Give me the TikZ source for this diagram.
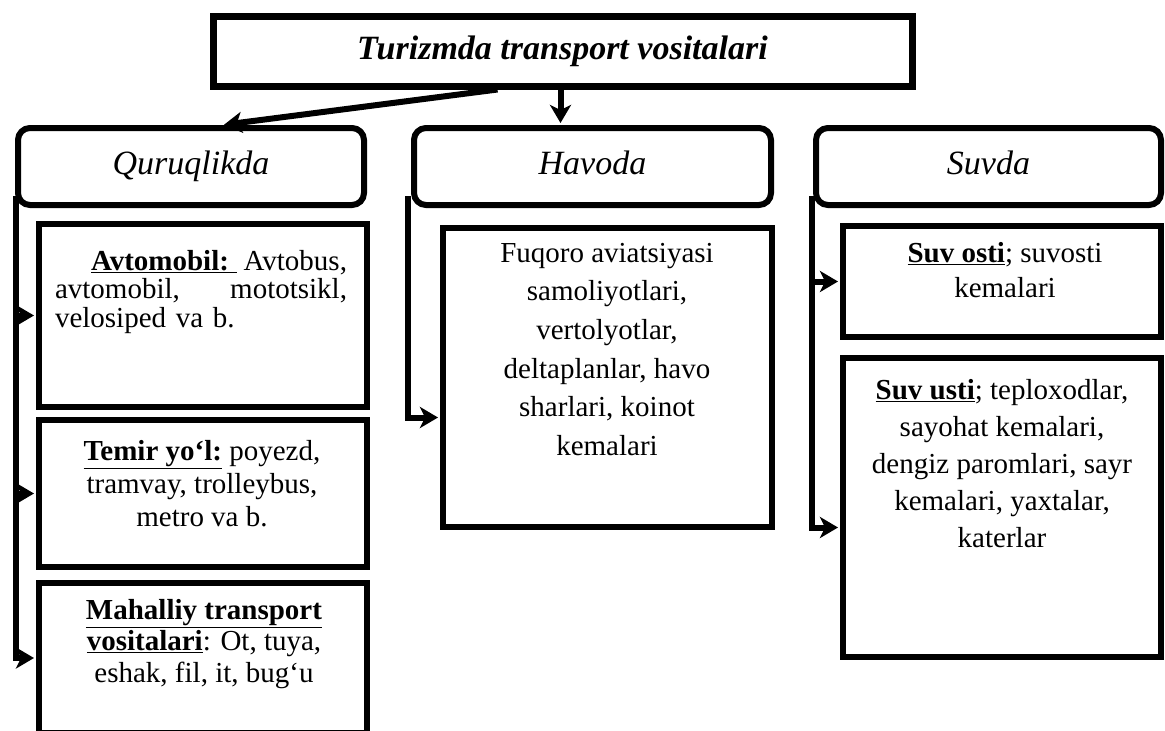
\documentclass[tikz,border=0pt]{standalone}
\usepackage{fontspec}
\setmainfont{Liberation Serif}
\usetikzlibrary{arrows.meta,calc}
\begin{document}
\begin{tikzpicture}[x=1pt,y=-1pt,
  box/.style={draw, line width=6pt, inner sep=0pt, rectangle},
  hbox/.style={box, rounded corners=12pt, text height=23pt, text depth=7pt, font=\fontsize{34}{40}\selectfont\itshape},
  txt/.style={inner sep=0pt, anchor=north, align=center},
  conn/.style={line width=6pt, shorten >=2pt, -{Stealth[length=18pt,width=21pt,inset=5pt]}}]
\useasboundingbox (0,0) rectangle (1165,731);
% title
\node[box, line width=7pt, minimum width=699pt, minimum height=70pt, text height=25pt, text depth=8pt,
      font=\fontsize{34}{40}\selectfont\bfseries\itshape] (title) at (562.5,51) {Turizmda transport vositalari};
% headers
\node[hbox, minimum width=346pt, minimum height=77pt] (quru) at (191,166.5) {Quruqlikda};
\node[hbox, minimum width=357pt, minimum height=77pt] (havoda) at (592.5,166.5) {Havoda};
\node[hbox, minimum width=345pt, minimum height=77pt] (suvda) at (988.5,166.5) {Suvda};
% sub boxes
\node[box, minimum width=328pt, minimum height=183pt] (avto) at (203,315.5) {};
\node[box, minimum width=328pt, minimum height=147pt] (temir) at (203,493.5) {};
\node[box, minimum width=328pt, minimum height=150pt] (mah) at (203,658) {};
\node[box, minimum width=329pt, minimum height=299pt] (fuq) at (607.5,377.5) {};
\node[box, minimum width=318pt, minimum height=111pt] (suvo) at (1002,281.5) {};
\node[box, minimum width=318pt, minimum height=299pt] (suvu) at (1002,507.5) {};
% texts
\node[txt, font=\fontsize{29}{28.5}\selectfont, text width=292pt, align=left] (avtot) at (201,250)
  {\rule{0pt}{20pt}\hspace*{36pt}\underline{\textbf{Avtomobil:}\hspace{8pt}}\hfill Avtobus,\\
   avtomobil,\hfill mototsikl,\\
   velosiped va b.};
\node[txt, font=\fontsize{29}{33}\selectfont] (temirt) at (202,440)
  {\rule{0pt}{20pt}\underline{\textbf{Temir yo‘l:}} poyezd,\\tramvay, trolleybus,\\metro va b.};
\node[txt, font=\fontsize{29}{31.5}\selectfont] (maht) at (204,599)
  {\rule{0pt}{20pt}\underline{\textbf{Mahalliy transport}}\\\underline{\textbf{vositalari}}: Ot, tuya,\\eshak, fil, it, bug‘u};
\node[txt, font=\fontsize{29}{38.6}\selectfont] (fuqt) at (607,242)
  {\rule{0pt}{20pt}Fuqoro aviatsiyasi\\samoliyotlari,\\vertolyotlar,\\deltaplanlar, havo\\sharlari, koinot\\kemalari};
\node[txt, font=\fontsize{29}{35}\selectfont] (suvot) at (1005,242)
  {\rule{0pt}{20pt}\underline{\textbf{Suv osti}}; suvosti\\kemalari};
\node[txt, font=\fontsize{29}{37}\selectfont] (suvut) at (1002,379)
  {\rule{0pt}{20pt}\underline{\textbf{Suv usti}}; teploxodlar,\\sayohat kemalari,\\dengiz paromlari, sayr\\kemalari, yaxtalar,\\katerlar};
% connectors
\draw[conn] ([xshift=-65pt]title.south) -- ([xshift=31pt]quru.north);
\draw[conn] ([xshift=-2pt]title.south) -- ([xshift=-2pt]title.south |- havoda.north);
\draw[conn] ([xshift=1pt,yshift=12pt]quru.south west) |- (avto.west);
\draw[conn] ([xshift=1pt,yshift=12pt]quru.south west) |- (temir.west);
\draw[conn] ([xshift=1pt,yshift=12pt]quru.south west) |- (mah.west);
\draw[conn] ([xshift=-3pt,yshift=12pt]havoda.south west) |- ([yshift=-40pt]fuq.west);
\draw[conn] ([xshift=-1pt,yshift=12pt]suvda.south west) |- (suvo.west);
\draw[conn] ([xshift=-1pt,yshift=12pt]suvda.south west) |- ([yshift=-20pt]suvu.west);
\end{tikzpicture}
\end{document}
